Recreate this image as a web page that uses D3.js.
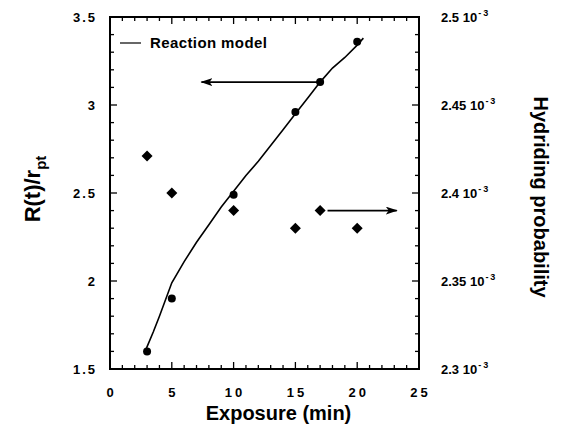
<!DOCTYPE html>
<html>
<head>
<meta charset="utf-8">
<script src="https://cdn.jsdelivr.net/npm/d3@7"></script>
<style>
  body { margin: 0; background: #fff; }
  text { font-family: "Liberation Sans", Arial, sans-serif; font-weight: bold; }
</style>
</head>
<body>
<div id="chart"></div>
<script>
// Measured values (left axis: R(t)/r_pt)
const radiusTimes = [3, 5, 10, 15, 17, 20];
const radiusValues = [1.6, 1.9, 2.49, 2.96, 3.13, 3.36];

// Hydriding probability (right axis, units of 1e-3)
const probTimes = [3, 5, 10, 15, 17, 20];
const probValues = [2.421, 2.40, 2.39, 2.38, 2.39, 2.38];

// Reaction model curve (left axis)
const modelTimes = [2.9, 3.5, 4, 5, 6, 7, 8, 9, 10, 11, 12, 13, 14, 15, 16, 17, 18, 19, 20, 20.5];
const modelValues = [1.61, 1.71, 1.8, 1.99, 2.11, 2.22, 2.32, 2.42, 2.51, 2.6, 2.68, 2.77, 2.86, 2.95, 3.04, 3.13, 3.21, 3.27, 3.34, 3.38];

const xTicks = [0, 5, 10, 15, 20, 25];
const leftTicks = [1.5, 2, 2.5, 3, 3.5];
const rightTicks = [2.3, 2.35, 2.4, 2.45, 2.5];

const W = 562, H = 436;
const margin = { top: 17, right: 143, bottom: 67, left: 110 };
const width = W - margin.left - margin.right;
const height = H - margin.top - margin.bottom;

const svg = d3.select("#chart").append("svg")
  .attr("width", W)
  .attr("height", H);

const g = svg.append("g")
  .attr("transform", `translate(${margin.left},${margin.top})`);

const x = d3.scaleLinear().domain([0, 25]).range([0, width]);
const yL = d3.scaleLinear().domain([1.5, 3.5]).range([height, 0]);
const yR = d3.scaleLinear().domain([2.3, 2.5]).range([height, 0]);

// frame
g.append("rect")
  .attr("width", width).attr("height", height)
  .attr("fill", "none").attr("stroke", "#000").attr("stroke-width", 2);

// inward ticks on all four sides (minor every 1 min / 0.1)
const xMinor = d3.range(0, 25.01, 1);
const yMinor = d3.range(1.5, 3.501, 0.1);
const isMajorX = d => Math.abs(d % 5) < 1e-6;
const isMajorY = d => Math.abs(Math.round(d * 2) - d * 2) < 1e-6;

const ticks = g.append("g").attr("stroke", "#000").attr("stroke-width", 1.3);
[height, 0].forEach(y0 => {
  const dir = y0 === 0 ? 1 : -1;
  ticks.selectAll(null).data(xMinor).enter().append("line")
    .attr("x1", d => x(d)).attr("x2", d => x(d))
    .attr("y1", y0).attr("y2", d => y0 + dir * (isMajorX(d) ? 7 : 4));
});
[0, width].forEach(x0 => {
  const dir = x0 === 0 ? 1 : -1;
  ticks.selectAll(null).data(yMinor).enter().append("line")
    .attr("y1", d => yL(d)).attr("y2", d => yL(d))
    .attr("x1", x0).attr("x2", d => x0 + dir * (isMajorY(d) ? 7 : 4));
});

// tick labels
g.selectAll(".xlab").data(xTicks).enter().append("text")
  .attr("x", d => x(d) + 1.5).attr("y", height + 28)
  .attr("text-anchor", "middle")
  .attr("font-size", 13)
  .attr("letter-spacing", 3)
  .text(d => d);

g.selectAll(".ylab").data(leftTicks).enter().append("text")
  .attr("x", -13).attr("y", d => yL(d) + 5)
  .attr("text-anchor", "end")
  .attr("font-size", 13)
  .attr("letter-spacing", 2)
  .text(d => d);

const rl = g.selectAll(".rlab").data(rightTicks).enter().append("text")
  .attr("x", width + 22).attr("y", d => yR(d) + 5)
  .attr("font-size", 13);
rl.append("tspan").text(d => d + "  10");
rl.append("tspan").attr("dy", -6).attr("dx", 1).attr("font-size", 9)
  .attr("letter-spacing", 2).text("-3");

// model curve
const line = d3.line().x(d => x(d[0])).y(d => yL(d[1]));
g.append("path")
  .datum(modelTimes.map((t, i) => [t, modelValues[i]]))
  .attr("d", line)
  .attr("fill", "none").attr("stroke", "#000").attr("stroke-width", 1.6);

// circles
g.selectAll(".pt").data(radiusTimes).enter().append("circle")
  .attr("cx", d => x(d)).attr("cy", (d, i) => yL(radiusValues[i]))
  .attr("r", 4).attr("fill", "#000");

// diamonds
g.selectAll(".dm").data(probTimes).enter().append("path")
  .attr("transform", (d, i) => `translate(${x(d)},${yR(probValues[i])})`)
  .attr("d", "M0,-5.5L5.5,0L0,5.5L-5.5,0Z")
  .attr("fill", "#000");

// arrows
svg.append("defs").append("marker")
  .attr("id", "head").attr("viewBox", "0 0 12 8")
  .attr("refX", 11).attr("refY", 4)
  .attr("markerWidth", 12).attr("markerHeight", 8)
  .attr("markerUnits", "userSpaceOnUse")
  .attr("orient", "auto")
  .append("path").attr("d", "M0,0L12,4L0,8L3,4Z").attr("fill", "#000");

g.append("line")
  .attr("x1", x(17)).attr("y1", yL(3.13))
  .attr("x2", x(7.4)).attr("y2", yL(3.13))
  .attr("stroke", "#000").attr("stroke-width", 1.6)
  .attr("marker-end", "url(#head)");
g.append("line")
  .attr("x1", x(17.6)).attr("y1", yR(2.39))
  .attr("x2", x(23.2)).attr("y2", yR(2.39))
  .attr("stroke", "#000").attr("stroke-width", 1.6)
  .attr("marker-end", "url(#head)");

// legend
g.append("line")
  .attr("x1", 10).attr("x2", 31).attr("y1", 26).attr("y2", 26)
  .attr("stroke", "#000").attr("stroke-width", 1.2);
g.append("text")
  .attr("x", 40).attr("y", 31)
  .attr("font-size", 15)
  .attr("letter-spacing", 0.4)
  .text("Reaction  model");

// axis titles
svg.append("text")
  .attr("x", margin.left + width / 2 + 14).attr("y", 420)
  .attr("text-anchor", "middle")
  .attr("font-size", 20)
  .text("Exposure (min)");

const lt = svg.append("text")
  .attr("transform", `translate(40,${margin.top + height / 2 - 4}) rotate(-90)`)
  .attr("text-anchor", "middle")
  .attr("font-size", 22);
lt.append("tspan").text("R(t)/r");
lt.append("tspan").attr("dy", 6).attr("font-size", 15).text("pt");

svg.append("text")
  .attr("transform", `translate(534,${margin.top + height / 2 + 4}) rotate(90)`)
  .attr("text-anchor", "middle")
  .attr("font-size", 20)
  .text("Hydriding probability");
</script>
</body>
</html>
